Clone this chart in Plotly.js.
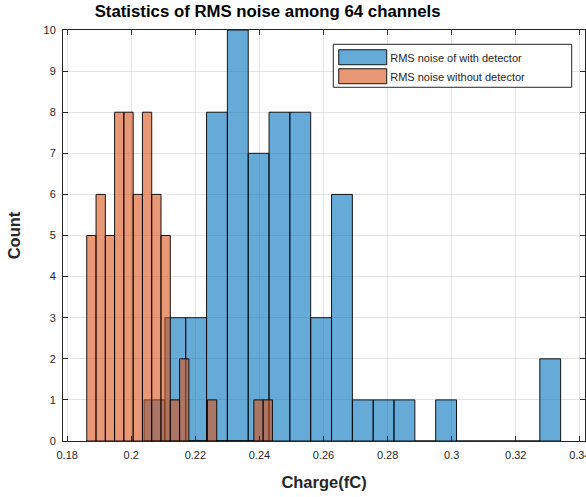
<!DOCTYPE html>
<html><head><meta charset="utf-8">
<script src="https://cdn.plot.ly/plotly-3.0.1.min.js"></script>
<style>html,body{margin:0;padding:0;background:#fff}#chart{width:586px;height:497px}</style>
</head><body><div id="chart"></div>
<script>
// Histogram "RMS noise of with detector" (bin left edges, counts)
const withDetBinLeft = [0.2040,0.2105,0.2170,0.2235,0.2300,0.2365,0.2430,0.2495,0.2560,0.2625,
                        0.2690,0.2755,0.2820,0.2885,0.2950,0.3015,0.3080,0.3145,0.3210,0.3275];
const withDetCounts  = [1,3,3,8,10,7,8,8,3,6,1,1,1,0,1,0,0,0,0,2];
const withDetBinWidth = 0.0065;

// Histogram "RMS noise without detector"
const withoutDetBinLeft = [0.18611,0.18901,0.19190,0.19480,0.19770,0.20060,0.20349,0.20639,0.20929,0.21218,
                           0.21508,0.21798,0.22087,0.22377,0.22667,0.22956,0.23246,0.23536,0.23826,0.24115];
const withoutDetCounts  = [5,6,5,8,8,6,8,6,5,1,2,0,0,1,0,0,0,0,1,1];
const withoutDetBinWidth = 0.0029;

const xTickVals = [0.18,0.2,0.22,0.24,0.26,0.28,0.3,0.32,0.34];
const xTickText = ['0.18','0.2','0.22','0.24','0.26','0.28','0.3','0.32','0.34'];
const yTickVals = [0,1,2,3,4,5,6,7,8,9,10];

const FONT = 'Arial, "Liberation Sans", Helvetica, sans-serif';
const AXC = '#262626';

const traces = [
  {type:'bar', name:'RMS noise of with detector', x:withDetBinLeft, y:withDetCounts,
   width:withDetBinWidth, offset:0,
   marker:{color:'rgba(0,114,189,0.6)', line:{color:'rgba(0,0,0,0.9)', width:1}}},
  {type:'bar', name:'RMS noise without detector', x:withoutDetBinLeft, y:withoutDetCounts,
   width:withoutDetBinWidth, offset:0,
   marker:{color:'rgba(217,83,25,0.6)', line:{color:'rgba(0,0,0,0.9)', width:1}}}
];

const axisCommon = {
  showline:true, linecolor:AXC, linewidth:1, mirror:'ticks',
  ticks:'inside', ticklen:5, tickwidth:1, tickcolor:AXC,
  showgrid:true, gridcolor:'#e3e3e3', gridwidth:1, zeroline:false,
  tickfont:{family:FONT, size:11, color:AXC}
};

const layout = {
  width:586, height:497,
  margin:{l:63, r:1, t:30, b:56},
  paper_bgcolor:'#fff', plot_bgcolor:'#fff',
  barmode:'overlay', bargap:0,
  showlegend:true,
  title:{text:'<b>Statistics of RMS noise among 64 channels</b>', font:{family:FONT, size:16.8, color:'#000'},
         xref:'paper', x:0.392, xanchor:'center', yref:'container', y:0.978, yanchor:'middle'},
  xaxis:Object.assign({}, axisCommon, {
    range:[0.1787,0.3416], tickvals:xTickVals, ticktext:xTickText, ticklabelstandoff:4,
    ticklabeloverflow:'allow',
    title:{text:'<b>Charge(fC)</b>', font:{family:FONT, size:16.5, color:AXC}, standoff:16}
  }),
  yaxis:Object.assign({}, axisCommon, {
    range:[0,10], tickvals:yTickVals, ticklabelstandoff:4,
    title:{text:'<b>Count</b>', font:{family:FONT, size:16.5, color:AXC}, standoff:18}
  }),
  shapes:[
    {type:'rect', xref:'paper', yref:'paper', x0:0.5178, x1:0.9745, y0:0.8606, y1:0.9652,
     fillcolor:'#fff', line:{color:AXC, width:1}, layer:'above'}
  ],
  legend:{x:0.5215, y:0.969, xanchor:'left', yanchor:'top', bgcolor:'rgba(0,0,0,0)',
          borderwidth:0, font:{family:FONT, size:11, color:AXC},
          itemwidth:45, tracegroupgap:0, traceorder:'normal'}
};

Plotly.newPlot('chart', traces, layout, {displayModeBar:false, staticPlot:true}).then(function(gd){
  document.querySelectorAll('.legend path.legendbar, .legend .legendpoints path').forEach(function(p){
    p.setAttribute('d','M24,7.5H-24V-7.5H24Z');
  });
});
</script>
</body></html>
